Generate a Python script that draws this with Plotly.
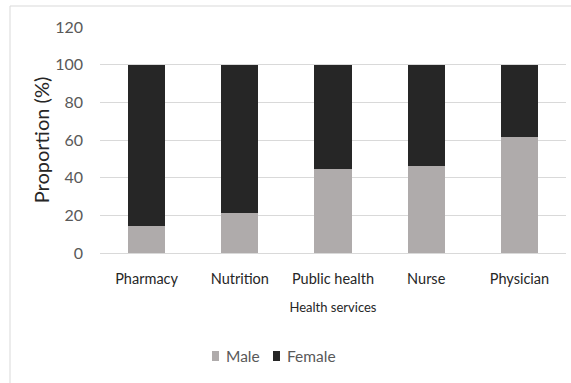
import plotly.graph_objects as go

categories = ["Pharmacy", "Nutrition", "Public health", "Nurse", "Physician"]
male = [14.3, 21.4, 44.4, 46.2, 61.4]
female = [round(100 - m, 1) for m in male]
y_ticks = [0, 20, 40, 60, 80, 100, 120]

series = [("Male", male, "#AFABAB"), ("Female", female, "#262626")]

FONT = "Lato, sans-serif"
GREY_TXT = "#595959"
DARK_TXT = "#262626"

W, H = 571, 383
L, R, T, B = 100, 5, 27, 130
pw, ph = W - L - R, H - T - B


def px(x):
    return (x - L) / pw


def py(y):
    return 1 - (y - T) / ph


fig = go.Figure()
for name, vals, color in series:
    fig.add_trace(go.Bar(x=categories, y=vals, name=name,
                         marker=dict(color=color, line=dict(width=0))))

# Chart frame plus a legend below the axis: small swatch followed by the series name
shapes = [dict(type="rect", xref="paper", yref="paper",
               x0=px(10), x1=px(W + 10), y0=py(H + 10), y1=py(6),
               line=dict(color="#D9D9D9", width=1), fillcolor="rgba(0,0,0,0)", layer="below")]
annotations = []
legend_x = [212, 273]
for (name, _, color), lx in zip(series, legend_x):
    shapes.append(dict(type="rect", xref="paper", yref="paper",
                       x0=px(lx), x1=px(lx + 7), y0=py(361), y1=py(351),
                       line=dict(width=0), fillcolor=color))
    annotations.append(dict(xref="paper", yref="paper", x=px(lx + 12), y=py(356),
                            xanchor="left", yanchor="middle", showarrow=False,
                            text=name, font=dict(family=FONT, size=15.5, color=GREY_TXT)))

fig.update_layout(
    width=W, height=H,
    margin=dict(l=L, r=R, t=T, b=B),
    barmode="stack",
    bargap=0.6,
    paper_bgcolor="white",
    plot_bgcolor="white",
    font=dict(family=FONT, color=GREY_TXT, size=15),
    showlegend=False,
    xaxis=dict(showgrid=False, showline=False, ticks="",
               tickfont=dict(size=14.5, color=DARK_TXT),
               ticklabelstandoff=15,
               title=dict(text="Health services", font=dict(size=13, color=DARK_TXT), standoff=17)),
    yaxis=dict(range=[0, 120], tickvals=y_ticks, showgrid=True, gridcolor="#D9D9D9", gridwidth=1,
               zeroline=True, zerolinecolor="#D9D9D9", zerolinewidth=1, showline=False, ticks="",
               tickfont=dict(size=16, color=GREY_TXT), ticklabelstandoff=16,
               title=dict(text="Proportion (%)", font=dict(size=20, color=DARK_TXT), standoff=0)),
    shapes=shapes,
    annotations=annotations,
)

fig.write_html("out.html")
